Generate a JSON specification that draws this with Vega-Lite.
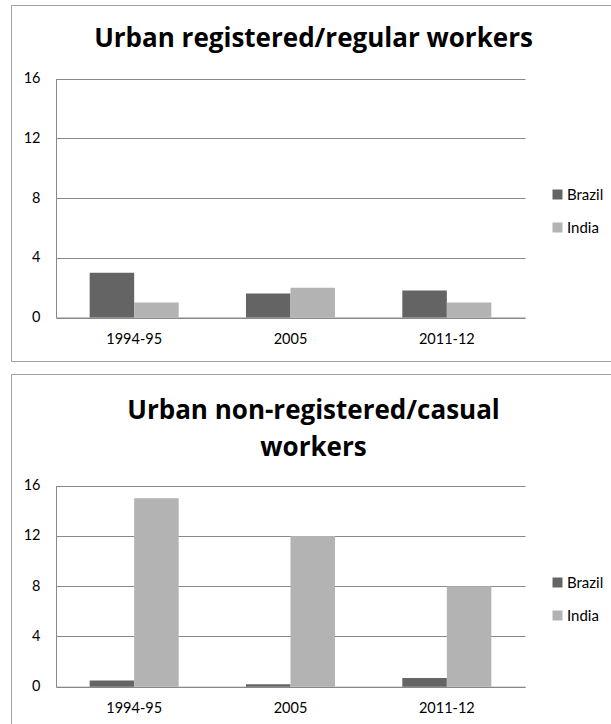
{
  "$schema": "https://vega.github.io/schema/vega-lite/v6.json",
  "padding": {"left": 10, "top": 4, "right": 0, "bottom": 0},
  "background": "white",
  "data": {
    "values": [
      {"panel": "regular", "period": "1994-95", "country": "Brazil", "value": 3.0},
      {"panel": "regular", "period": "1994-95", "country": "India", "value": 1.0},
      {"panel": "regular", "period": "2005", "country": "Brazil", "value": 1.6},
      {"panel": "regular", "period": "2005", "country": "India", "value": 2.0},
      {"panel": "regular", "period": "2011-12", "country": "Brazil", "value": 1.8},
      {"panel": "regular", "period": "2011-12", "country": "India", "value": 1.0},
      {"panel": "casual", "period": "1994-95", "country": "Brazil", "value": 0.5},
      {"panel": "casual", "period": "1994-95", "country": "India", "value": 15.0},
      {"panel": "casual", "period": "2005", "country": "Brazil", "value": 0.2},
      {"panel": "casual", "period": "2005", "country": "India", "value": 12.0},
      {"panel": "casual", "period": "2011-12", "country": "Brazil", "value": 0.7},
      {"panel": "casual", "period": "2011-12", "country": "India", "value": 8.0}
    ]
  },
  "spacing": 11,
  "vconcat": [
    {
      "width": 605,
      "height": 356,
      "title": {
        "text": "Urban registered/regular workers",
        "offset": -67.5,
        "baseline": "alphabetic"
      },
      "transform": [{"filter": "datum.panel == 'regular'"}],
      "mark": {"type": "bar"},
      "encoding": {
        "x": {
          "field": "period",
          "type": "nominal",
          "sort": ["1994-95", "2005", "2011-12"],
          "scale": {"range": [45, 514], "paddingInner": 0, "paddingOuter": 0},
          "axis": {"offset": -43.5}
        },
        "xOffset": {
          "field": "country",
          "scale": {"paddingInner": 0, "paddingOuter": 0.756}
        },
        "y": {
          "field": "value",
          "type": "quantitative",
          "scale": {"domain": [0, 16], "range": [312.5, 73.5], "nice": false},
          "axis": {"values": [0, 4, 8, 12, 16], "offset": -45}
        },
        "color": {
          "field": "country",
          "type": "nominal",
          "scale": {"domain": ["Brazil", "India"], "range": ["#646464", "#b3b3b3"]},
          "legend": {"orient": "none", "legendX": 539, "legendY": 182}
        }
      }
    },
    {
      "width": 605,
      "height": 356,
      "title": {
        "text": ["Urban non-registered/casual", "workers"],
        "offset": -108.3,
        "baseline": "alphabetic",
        "lineHeight": 37
      },
      "transform": [{"filter": "datum.panel == 'casual'"}],
      "mark": {"type": "bar"},
      "encoding": {
        "x": {
          "field": "period",
          "type": "nominal",
          "sort": ["1994-95", "2005", "2011-12"],
          "scale": {"range": [45, 514], "paddingInner": 0, "paddingOuter": 0},
          "axis": {"offset": -43.3}
        },
        "xOffset": {
          "field": "country",
          "scale": {"paddingInner": 0, "paddingOuter": 0.756}
        },
        "y": {
          "field": "value",
          "type": "quantitative",
          "scale": {"domain": [0, 16], "range": [312.7, 111.7], "nice": false},
          "axis": {"values": [0, 4, 8, 12, 16], "offset": -45}
        },
        "color": {
          "field": "country",
          "type": "nominal",
          "scale": {"domain": ["Brazil", "India"], "range": ["#646464", "#b3b3b3"]},
          "legend": {"orient": "none", "legendX": 539, "legendY": 201}
        }
      }
    }
  ],
  "resolve": {
    "scale": {"color": "independent", "xOffset": "independent"},
    "legend": {"color": "independent"}
  },
  "config": {
    "font": "Lato",
    "view": {"stroke": "#a0a0a0", "strokeWidth": 1, "fill": "white"},
    "title": {
      "font": "Open Sans",
      "fontSize": 26,
      "fontWeight": "bold",
      "color": "#000000",
      "anchor": "middle",
      "frame": "group"
    },
    "axis": {
      "title": null,
      "labelFont": "Lato",
      "labelFontSize": 14.5,
      "labelColor": "#000000",
      "domainColor": "#898989",
      "domainWidth": 1,
      "ticks": false,
      "tickSize": 0,
      "gridColor": "#898989",
      "gridWidth": 1
    },
    "axisX": {
      "grid": false,
      "labelAngle": 0,
      "labelBaseline": "middle",
      "labelPadding": 21.5
    },
    "axisY": {
      "grid": true,
      "labelPadding": 16
    },
    "legend": {
      "title": null,
      "symbolType": "square",
      "symbolSize": 100,
      "symbolStrokeWidth": 0,
      "labelFont": "Lato",
      "labelFontSize": 15,
      "labelColor": "#000000",
      "labelOffset": 2,
      "rowPadding": 17
    }
  }
}
